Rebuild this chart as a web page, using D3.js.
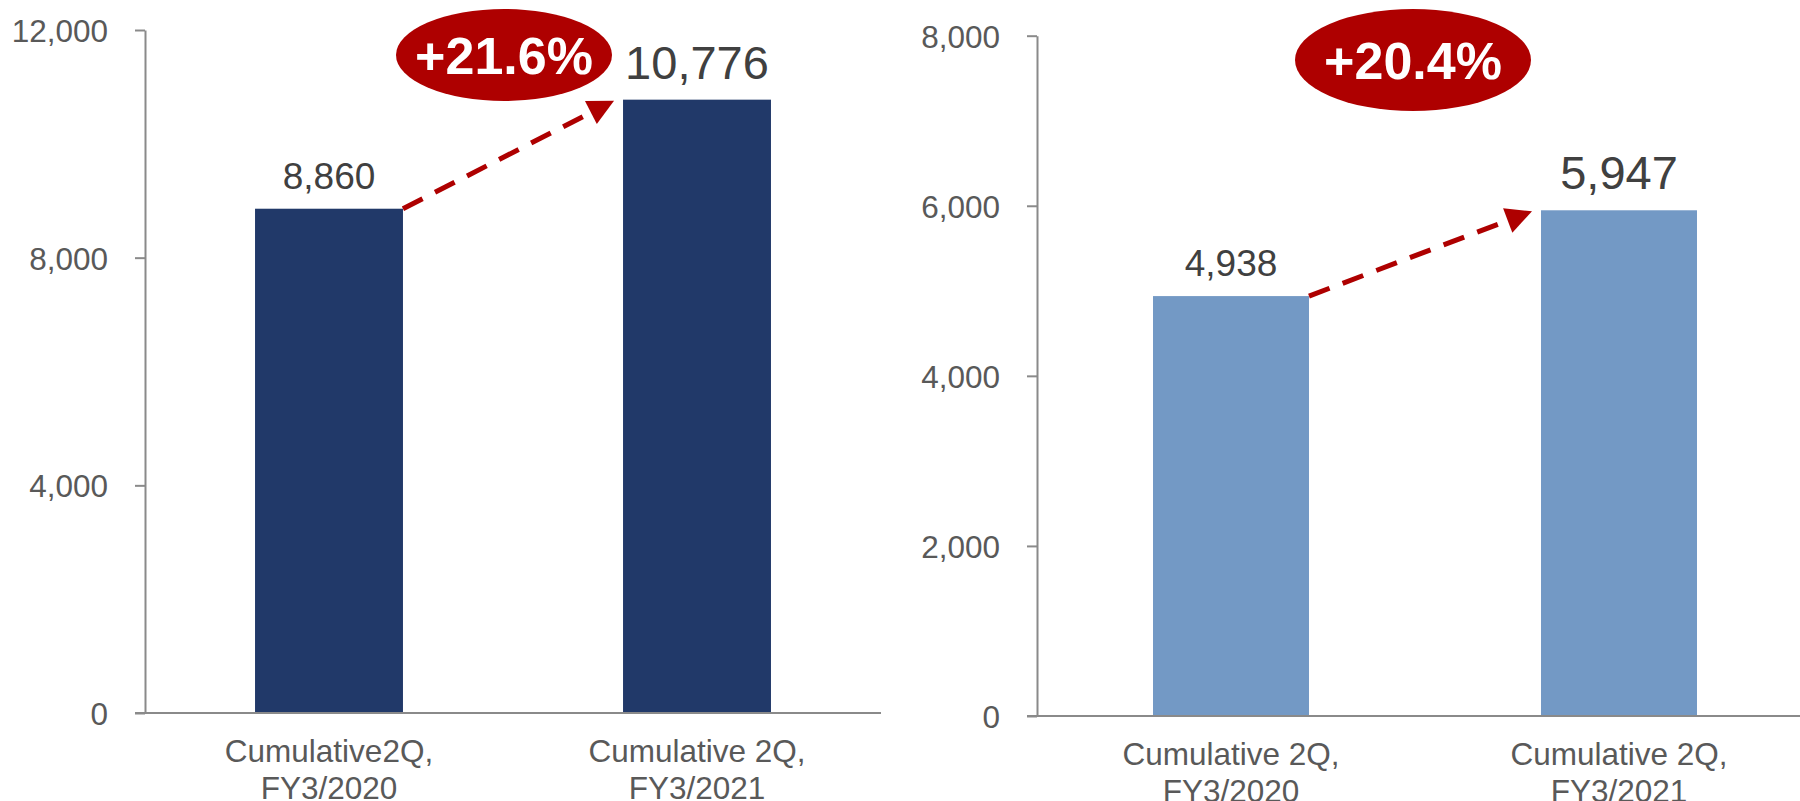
<!DOCTYPE html>
<html>
<head>
<meta charset="utf-8">
<script src="https://cdn.jsdelivr.net/npm/d3@7"></script>
<style>
  body { margin: 0; background: #ffffff; }
  text { font-family: "Liberation Sans", Arial, sans-serif; }
  .tick text { fill: #595959; font-size: 31.5px; }
  .domain, .tick line { stroke: #8a8a8a; stroke-width: 2px; }
  .catlabel { fill: #595959; font-size: 31.5px; }
  .vallabel { fill: #404040; }
  .growth { fill: #ffffff; font-weight: bold; font-size: 52px; }
</style>
</head>
<body>
<svg id="chart"></svg>
<script>
// data
var categoriesLeft = [["Cumulative2Q,", "FY3/2020"], ["Cumulative 2Q,", "FY3/2021"]];
var categoriesRight = [["Cumulative 2Q,", "FY3/2020"], ["Cumulative 2Q,", "FY3/2021"]];
var valuesLeft = [8860, 10776];
var valuesRight = [4938, 5947];
var ticksLeft = [0, 4000, 8000, 12000];
var ticksRight = [0, 2000, 4000, 6000, 8000];
var growthLeft = "+21.6%";
var growthRight = "+20.4%";

var svg = d3.select("#chart")
    .attr("width", 1800)
    .attr("height", 801);

//draws one bar panel with its growth arrow and bubble
var drawPanel = function(cats, values, ticks, growth, layout)
{
    var xScale = d3.scaleBand()
        .domain(d3.range(cats.length))
        .range([layout.left, layout.right])
        .paddingInner(0.598)
        .paddingOuter(0.299);

    var yScale = d3.scaleLinear()
        .domain([0, d3.max(ticks)])
        .range([layout.bottom, layout.top]);

    var g = svg.append("g");

    //bars
    g.selectAll("rect")
     .data(values)
     .enter()
     .append("rect")
     .attr("x", function(d, i) { return xScale(i); })
     .attr("y", function(d) { return yScale(d); })
     .attr("width", xScale.bandwidth())
     .attr("height", function(d) { return yScale(0) - yScale(d); })
     .attr("fill", layout.color);

    //y axis
    var yAxis = d3.axisLeft(yScale)
        .tickValues(ticks)
        .tickFormat(d3.format(","))
        .tickSize(10)
        .tickSizeOuter(0)
        .tickPadding(27);
    g.append("g")
     .attr("transform", "translate(" + layout.left + ",0)")
     .call(yAxis)
     .call(function(a) { a.selectAll(".tick text").attr("dy", "0.36em"); });

    //baseline
    g.append("line")
     .attr("x1", layout.left - 10)
     .attr("x2", layout.right)
     .attr("y1", yScale(0))
     .attr("y2", yScale(0))
     .attr("stroke", "#8a8a8a")
     .attr("stroke-width", 2);

    //category labels, two lines each
    var cat = g.selectAll(".catlabel")
        .data(cats)
        .enter()
        .append("text")
        .classed("catlabel", true)
        .attr("text-anchor", "middle")
        .attr("y", yScale(0) + 49);
    cat.selectAll("tspan")
       .data(function(d, i) { return d.map(function(s) { return {s: s, i: i}; }); })
       .enter()
       .append("tspan")
       .attr("x", function(d) { return xScale(d.i) + xScale.bandwidth() / 2; })
       .attr("dy", function(d, j) { return j == 0 ? 0 : 37; })
       .text(function(d) { return d.s; });

    //value labels
    g.selectAll(".vallabel")
     .data(values)
     .enter()
     .append("text")
     .classed("vallabel", true)
     .attr("text-anchor", "middle")
     .attr("font-size", function(d, i) { return i == 0 ? "37px" : "47px"; })
     .attr("x", function(d, i) { return xScale(i) + xScale.bandwidth() / 2; })
     .attr("y", function(d, i) { return yScale(d) - (i == 0 ? 20 : 21); })
     .text(function(d) { return d3.format(",")(d); });

    //dashed arrow from first bar to second
    var sx = xScale(0) + xScale.bandwidth(), sy = yScale(values[0]);
    var tx = xScale(1) - 9, ty = yScale(values[1]) + 1;
    var len = Math.sqrt((tx - sx) * (tx - sx) + (ty - sy) * (ty - sy));
    var ux = (tx - sx) / len, uy = (ty - sy) / len;
    var headL = 26, headW = 13;
    var bx = tx - ux * headL, by = ty - uy * headL;
    g.append("line")
     .attr("x1", sx).attr("y1", sy)
     .attr("x2", bx).attr("y2", by)
     .attr("stroke", "#ae0000")
     .attr("stroke-width", 5)
     .attr("stroke-dasharray", "22,14");
    g.append("path")
     .attr("d", "M" + tx + "," + ty +
                "L" + (bx - uy * headW) + "," + (by + ux * headW) +
                "L" + (bx + uy * headW) + "," + (by - ux * headW) + "Z")
     .attr("fill", "#ae0000");

    //growth bubble
    g.append("ellipse")
     .attr("cx", layout.bubble.cx)
     .attr("cy", layout.bubble.cy)
     .attr("rx", layout.bubble.rx)
     .attr("ry", layout.bubble.ry)
     .attr("fill", "#ae0000");
    g.append("text")
     .classed("growth", true)
     .attr("text-anchor", "middle")
     .attr("x", layout.bubble.cx)
     .attr("y", layout.bubble.cy + 19)
     .text(growth);
}

drawPanel(categoriesLeft, valuesLeft, ticksLeft, growthLeft,
    {left: 145, right: 881, top: 30, bottom: 713, color: "#213969",
     bubble: {cx: 504, cy: 55, rx: 108, ry: 46}});
drawPanel(categoriesRight, valuesRight, ticksRight, growthRight,
    {left: 1037, right: 1813, top: 35.7, bottom: 716, color: "#7399c5",
     bubble: {cx: 1413, cy: 60, rx: 118, ry: 51}});
</script>
</body>
</html>
